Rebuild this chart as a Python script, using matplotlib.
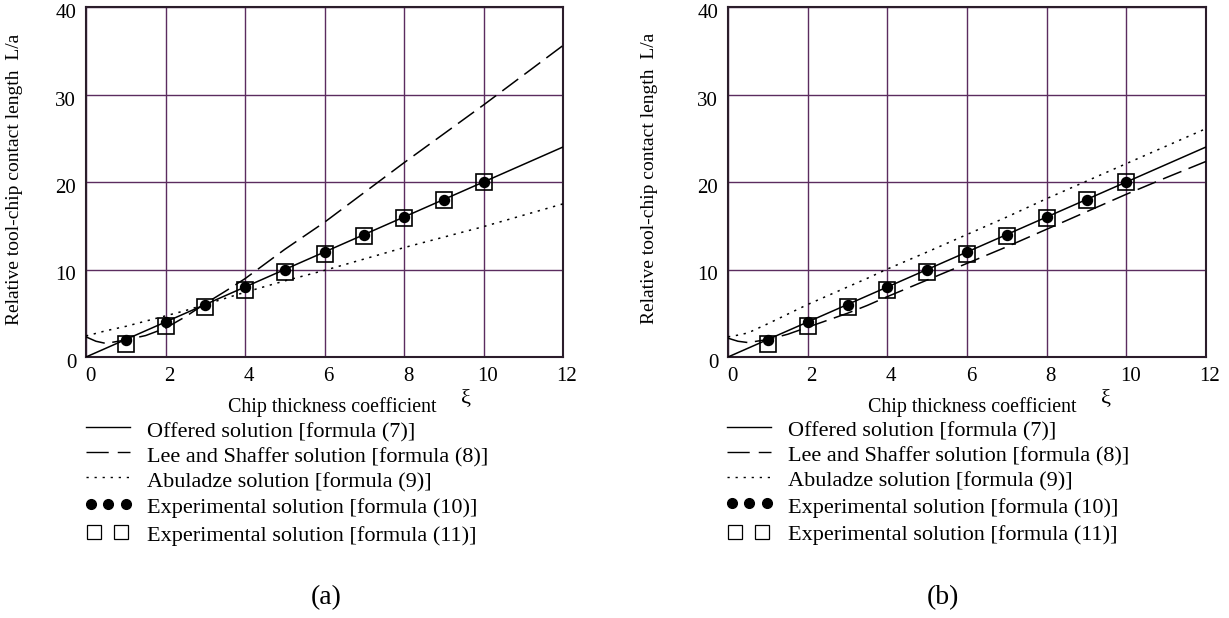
import matplotlib
matplotlib.use("Agg")
import matplotlib.pyplot as plt
from matplotlib.transforms import ScaledTranslation

plt.rcParams['font.family'] = ['Liberation Serif', 'DejaVu Serif']

# ---------------- data ----------------
xi_curve = [0, 0.25, 0.5, 1, 1.5, 2, 2.5, 3, 3.5, 4, 5, 6, 7, 8, 9, 10, 11, 12]
offered = [0, 0.5, 1.0, 2.0, 3.0, 4.0, 5.0, 6.0, 7.0, 8.0, 10.0, 12.0, 14.0, 16.0, 18.0, 20.0, 22.0, 24.0]

lee_a = [2.3, 1.8, 1.55, 1.95, 2.45, 3.3, 4.6, 6.1, 7.5, 8.95, 12.3, 15.4, 18.8, 22.2, 25.5, 28.8, 32.2, 35.6]
abul_a = [2.4, 2.7, 3.0, 3.5, 4.1, 4.7, 5.3, 6.0, 6.7, 7.4, 8.7, 9.9, 11.2, 12.5, 13.7, 14.9, 16.2, 17.5]

lee_b = [2.15, 1.8, 1.65, 2.0, 2.6, 3.4, 4.2, 5.0, 5.9, 6.9, 8.8, 10.7, 12.6, 14.6, 16.6, 18.6, 20.5, 22.35]
abul_b = [2.3, 2.5, 2.75, 3.8, 4.9, 6.0, 7.0, 8.0, 9.0, 10.05, 12.0, 14.0, 16.0, 18.1, 20.1, 22.1, 24.1, 26.1]

xi_exp = [1, 2, 3, 4, 5, 6, 7, 8, 9, 10]
exp10 = [2, 4, 6, 8, 10, 12, 14, 16, 18, 20]
exp11 = [1.5, 3.5, 5.7, 7.7, 9.7, 11.8, 13.8, 15.9, 17.9, 20.0]

x_ticks = [0, 2, 4, 6, 8, 10, 12]
y_ticks = [0, 10, 20, 30, 40]

legend_labels = ["Offered solution [formula (7)]",
                 "Lee and Shaffer solution [formula (8)]",
                 "Abuladze solution [formula (9)]",
                 "Experimental solution [formula (10)]",
                 "Experimental solution [formula (11)]"]
panel_labels = ["(a)", "(b)"]
xlabel_text = "Chip thickness coefficient"
ylabel_text = "Relative tool-chip contact length  L/a"

# ---------------- figure ----------------
W, H = 1229, 618
fig = plt.figure(figsize=(W / 100, H / 100), dpi=100)

GRID = '#5b2c5f'
SPINE = '#2b1d2b'
DASH = (13, 5)
DOT = (1.5, 3.7)

# overlay in pixel coordinates for the legend blocks and free text
ov = fig.add_axes([0, 0, 1, 1], zorder=10)
ov.set_xlim(0, W)
ov.set_ylim(H, 0)
ov.axis('off')
ov.patch.set_alpha(0)

panels = [
    dict(rect=[86 / W, 1 - 357 / H, 477 / W, 350 / H], lee=lee_a, abul=abul_a,
         ylab=(15, 179), xlab=(332, 407), xi=(466, 399), tag=(326, 598),
         lx=86, hrows=[427, 452, 477, 504, 532], trows=[433, 458, 483, 508, 536]),
    dict(rect=[728 / W, 1 - 357 / H, 478 / W, 350 / H], lee=lee_b, abul=abul_b,
         ylab=(649, 178), xlab=(972, 407), xi=(1106, 399), tag=(943, 598),
         lx=727, hrows=[427, 452, 477, 503, 532], trows=[432, 457, 482, 508, 535]),
]

for i, p in enumerate(panels):
    ax = fig.add_axes(p['rect'])
    ax.set_xlim(0, 12)
    ax.set_ylim(0, 40)
    ax.set_xticks(x_ticks)
    ax.set_yticks(y_ticks)
    ax.grid(True, color=GRID, lw=1.0)
    ax.set_axisbelow(True)
    for s in ax.spines.values():
        s.set_color(SPINE)
        s.set_linewidth(1.5)
    ax.tick_params(length=0, labelsize=15, pad=7, colors='black')

    ax.plot(xi_curve, offered, color='black', lw=1.1, zorder=3)
    ax.plot(xi_curve, p['lee'], color='black', lw=1.1, dashes=DASH, zorder=3)
    ax.plot(xi_curve, p['abul'], color='black', lw=1.1, dashes=DOT, zorder=3)
    ax.plot(xi_exp, exp11, ls='none', marker='s', ms=11, mfc='none', mec='black', mew=1.2, zorder=4)
    ax.plot(xi_exp, exp10, ls='none', marker='o', ms=7.2, mfc='black', mec='black', zorder=5)

    for lab in ax.get_xticklabels():
        lab.set_transform(lab.get_transform() + ScaledTranslation(4 / 100, 0, fig.dpi_scale_trans))
    for lab in ax.get_yticklabels():
        lab.set_transform(lab.get_transform() + ScaledTranslation(0, -4 / 100, fig.dpi_scale_trans))

    # legend (drawn in pixel overlay)
    lx = p['lx']
    r = p['hrows']
    t = p['trows']
    ov.plot([lx, lx + 44], [r[0], r[0]], color='black', lw=1.0)
    ov.plot([lx, lx + 44], [r[1], r[1]], color='black', lw=1.0, dashes=(16, 6.5))
    ov.plot([lx, lx + 44], [r[2], r[2]], color='black', lw=1.0, dashes=(1.6, 4.2))
    ov.plot([lx + 5, lx + 22, lx + 40], [r[3]] * 3, ls='none', marker='o', ms=7,
            mfc='black', mec='black')
    ov.plot([lx + 8, lx + 35], [r[4]] * 2, ls='none', marker='s', ms=10.5,
            mfc='none', mec='black', mew=0.9)
    for k, lab in enumerate(legend_labels):
        ov.text(lx + 61, t[k], lab, ha='left', va='center', fontsize=16)

    ov.text(p['ylab'][0], p['ylab'][1], ylabel_text, rotation=90, ha='center', va='center',
            fontsize=14)
    ov.text(p['xlab'][0], p['xlab'][1], xlabel_text, ha='center', va='center', fontsize=14.4)
    ov.text(p['xi'][0], p['xi'][1], "ξ", ha='center', va='center', fontsize=16)
    ov.text(p['tag'][0], p['tag'][1], panel_labels[i], ha='center', va='center', fontsize=20)

fig.savefig("out.png", dpi=100)
